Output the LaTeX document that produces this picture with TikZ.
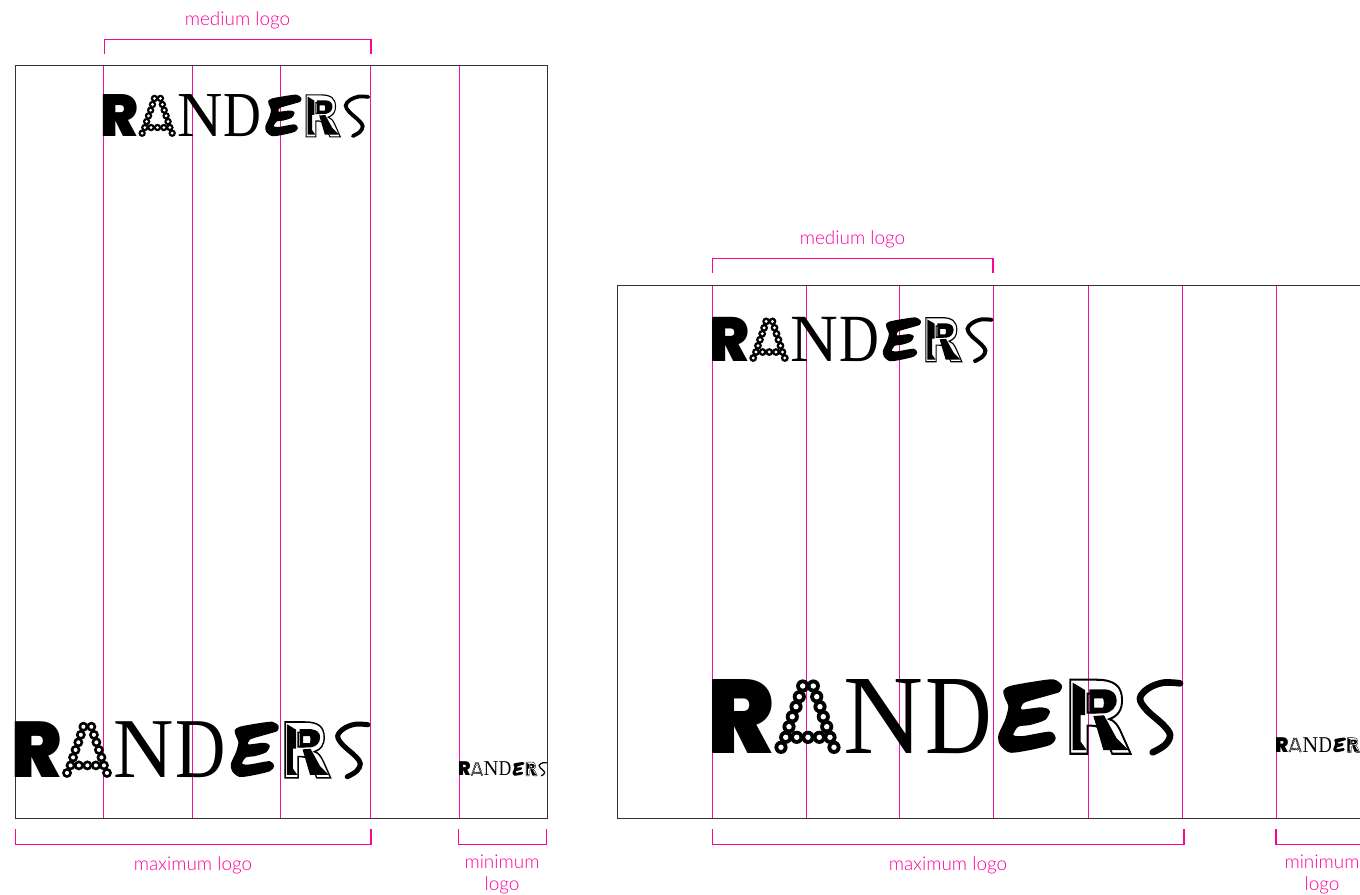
\documentclass[tikz,border=0pt]{standalone}
\usepackage{xcolor}
\usepackage{graphicx}
\usepackage{fontspec}
\usepackage{tikz}
\newfontfamily\labelfont{Lato Light}
\newfontfamily\logoheavy{Poppins Black}
\newfontfamily\logoserif{Liberation Serif}
\newfontfamily\logoshade{DejaVu Sans Bold}
\definecolor{guide}{HTML}{F0109F}
\definecolor{bracket}{HTML}{FF0099}
\definecolor{frameline}{HTML}{333333}
\tikzset{
    guideline/.style={draw=guide, line width=0.75pt},
    bracketline/.style={draw=bracket, line width=0.9pt},
    frameedge/.style={draw=frameline, line width=0.7pt},
    sizelabel/.style={font=\labelfont\fontsize{14.2}{16.5}\selectfont, text=bracket, inner sep=0pt, align=center},
    logochar/.style={anchor=south west, inner sep=0pt, transform shape},
    glyphpart/.style={shift={(#1,-84)}, x=0.25pt, y=-0.25pt}
}
\newcommand{\logochars}[6]{\node[logochar] (#1) at (#2,0) {\resizebox{#3pt}{55.5pt}{#4#5}#6};}
\newcommand{\randerslogo}[4]{%
    \begin{scope}[shift={(#2,#3)}, scale=#4]
        \logochars{#1r}{-5}{50}{\logoheavy}{R}{}
        \foreach \px/\py in {69/6.7,73.7/16.7,77/27.3,80.3/37.3,84/47.3,87.3/57.3,90.7/68,101.3/68,104.7/57.3,108/47.3,111.3/37.3,114.7/27.3,118/16.7,122/6.7,84.7/16.7,96/16.7,107.3/16.7}
            \fill[black] (\px,-\py) circle (6.6);
        \foreach \px/\py in {69/6.7,73.7/16.7,77/27.3,80.3/37.3,84/47.3,87.3/57.3,90.7/68,101.3/68,104.7/57.3,108/47.3,111.3/37.3,114.7/27.3,118/16.7,122/6.7,84.7/16.7,96/16.7,107.3/16.7}
            \fill[white] (\px,-\py) circle (2.7);
        \logochars{#1n}{131}{60}{\logoserif}{N}{}
        \logochars{#1d}{213}{50}{\logoserif}{D}{}
        \begin{scope}[glyphpart=278]
            \fill[black] plot[smooth cycle, tension=0.45] coordinates {(40,62) (60,48) (130,35) (190,28) (215,45) (210,65) (180,75) (120,92) (100,100) (95,118) (150,112) (170,115) (180,125) (165,150) (120,165) (85,170) (70,195) (100,198) (180,185) (197,205) (180,225) (120,240) (60,248) (30,225) (25,195) (45,150) (55,110) (45,85)};
            \fill[black] (248,38) -- (285,60) -- (285,135) -- (272,135) -- (272,215) -- (290,240) -- (248,240) -- cycle;
            \fill[black, even odd rule] (298,58) -- (345,58) .. controls (368,60) and (380,72) .. (380,90) .. controls (380,112) and (365,128) .. (342,130) -- (298,130) -- cycle (312,85) -- (340,85) -- (347,100) -- (340,113) -- (312,113) -- cycle;
            \fill[black] (310,138) -- (342,136) -- (380,205) -- (415,240) -- (340,240) -- cycle;
            \draw[black, line width=#4*5pt, line cap=round] plot[smooth, tension=0.6] coordinates {(570,40) (520,38) (475,55) (450,85) (470,120) (520,165) (540,195) (525,225) (488,247)};
        \end{scope}
        \logochars{#1o}{349.5}{53}{\special{pdf:code 1 Tr 0.2 w}\logoshade}{R}{\special{pdf:code 0 Tr}}
    \end{scope}}

\begin{document}
\begin{tikzpicture}[x=0.75pt, y=-0.75pt]
    \useasboundingbox (0,0) rectangle (1360,895);

    \draw[guideline] (103.5,65.5) -- (103.5,818);
    \draw[guideline] (192.5,65.5) -- (192.5,818);
    \draw[guideline] (280.5,65.5) -- (280.5,818);
    \draw[guideline] (370,65.5) -- (370,818);
    \draw[guideline] (459,65.5) -- (459,818);
    \draw[frameedge] (15,65.5) rectangle (547,818);

    \draw[guideline] (712,285.5) -- (712,818);
    \draw[guideline] (806,285.5) -- (806,818);
    \draw[guideline] (899,285.5) -- (899,818);
    \draw[guideline] (993.5,285.5) -- (993.5,818);
    \draw[guideline] (1088.5,285.5) -- (1088.5,818);
    \draw[guideline] (1182.5,285.5) -- (1182.5,818);
    \draw[guideline] (1276,285.5) -- (1276,818);
    \draw[frameedge] (1360,285.5) -- (617.5,285.5) -- (617.5,818) -- (1360,818);

    \draw[bracketline] (104.5,54) -- (104.5,39.5) -- (371,39.5) -- (371,54);
    \draw[bracketline] (15.5,829) -- (15.5,844.5) -- (371,844.5) -- (371,829);
    \draw[bracketline] (458.5,829) -- (458.5,844.5) -- (546.5,844.5) -- (546.5,829);
    \draw[bracketline] (712.5,273) -- (712.5,258.5) -- (993,258.5) -- (993,273);
    \draw[bracketline] (712.5,829) -- (712.5,844.5) -- (1184,844.5) -- (1184,829);
    \draw[bracketline] (1276,829) -- (1276,844.5) -- (1360,844.5);

    \node[sizelabel] (mediumtall) at (237.5,20) {medium logo};
    \node[sizelabel] (maximumtall) at (193,865) {maximum logo};
    \node[sizelabel, anchor=north] (minimumtall) at (502,855) {minimum\\logo};
    \node[sizelabel] (mediumwide) at (852.5,239) {medium logo};
    \node[sizelabel] (maximumwide) at (948,865) {maximum logo};
    \node[sizelabel, anchor=north] (minimumwide) at (1322,855) {minimum\\logo};

    \randerslogo{mt}{103}{137}{0.567}
    \randerslogo{xt}{15}{778}{0.754}
    \randerslogo{nt}{459}{776}{0.187}
    \randerslogo{mw}{712}{362}{0.597}
    \randerslogo{xw}{712}{754}{1}
    \begin{scope}
        \clip (1270,730) rectangle (1360,760);
        \randerslogo{nw}{1276}{752.5}{0.2}
    \end{scope}
\end{tikzpicture}
\end{document}
